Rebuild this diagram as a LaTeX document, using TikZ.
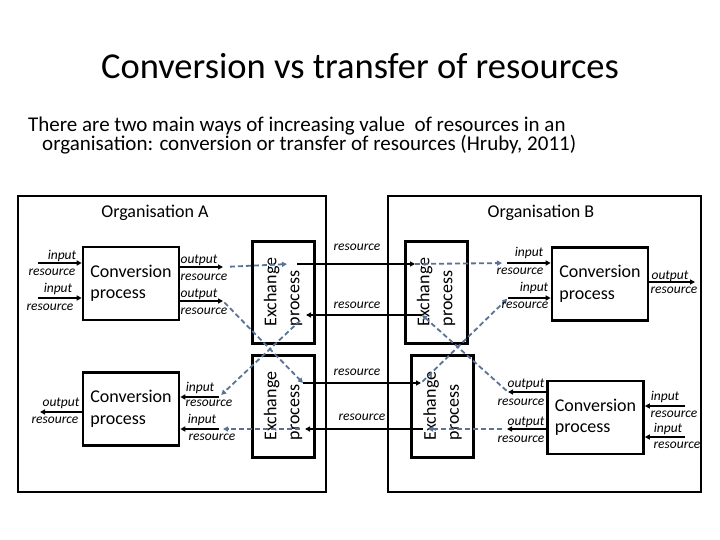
\documentclass[tikz,border=0pt]{standalone}
\usepackage{fontspec}
\setmainfont{Carlito}
\usetikzlibrary{arrows.meta}
\definecolor{flowgrey}{RGB}{90,115,148}

\begin{document}
\begin{tikzpicture}[x=1pt, y=-1pt,
		org/.style  = {rectangle, draw, line width=2.8pt, minimum height=296, inner sep=0},
		conv/.style = {rectangle, draw, line width=2.6pt, minimum width=96, minimum height=73, inner sep=0, align=left, font=\fontsize{18}{21.5}\selectfont},
		exch/.style = {rectangle, draw, line width=3pt, rotate=90, minimum width=102, minimum height=62, inner sep=0, align=left, font=\fontsize{18}{23}\selectfont},
		tag/.style  = {inner sep=0, font=\fontsize{13.5}{16}\selectfont\itshape},
		orglab/.style = {inner sep=0, font=\fontsize{18}{21}\selectfont},
		r/.style    = {-{Triangle[length=5pt,width=5pt]}, line width=1.8pt},
		d/.style    = {r, flowgrey, dash pattern=on 5pt off 3pt},
		]
		
		\useasboundingbox[fill=white] (0,0) rectangle (720,540);
		
		% === === Titles === ===
		\node[inner sep=0, anchor=base, font=\fontsize{36.5}{44}\selectfont]	(title)	at	(360,79)	{Conversion vs transfer of resources};
		\node[inner sep=0, anchor=base west, font=\fontsize{21}{25}\selectfont]	(sub1)	at	(28,132)	{There are two main ways of increasing value\ \ of resources in an};
		\node[inner sep=0, anchor=base west, font=\fontsize{21}{25}\selectfont]	(sub2)	at	(42,151)	{organisation: conversion or transfer of resources (Hruby, 2011)};
		
		% === === Organisations === ===
		\node[org, minimum width=308]	(orgA)	at	(172,344)		{};
		\node[org, minimum width=313]	(orgB)	at	(544.5,344)		{};
		\node[orglab]	(nameA)	at	(155,213)		{Organisation A};
		\node[orglab]	(nameB)	at	(541,213)		{Organisation B};
		
		% === === Nodes === ===
		\node[conv]		(cAt)	at	(131,283.5)		{Conversion\\process};
		\node[conv]		(cAb)	at	(131,409)		{Conversion\\process};
		\node[conv]		(cBt)	at	(600,284)		{Conversion\\process};
		\node[conv]		(cBb)	at	(595.5,417.5)	{Conversion\\process};
		\node[exch]		(xAt)	at	(283,292)		{Exchange\\process};
		\node[exch]		(xAb)	at	(283,406)		{Exchange\\process};
		\node[exch]		(xBt)	at	(436,292)		{Exchange\\process};
		\node[exch]		(xBb)	at	(442.5,406)		{Exchange\\process};
		
		% === === Ports === ===
		\coordinate	(iA1)	at	(38,263);
		\coordinate	(iA2)	at	(38,298);
		\coordinate	(oA1)	at	(223,267);
		\coordinate	(oA2)	at	(223,301);
		\coordinate	(oA3)	at	(40,412);
		\coordinate	(iA3)	at	(219,397);
		\coordinate	(iA4)	at	(219,429);
		\coordinate	(pA1)	at	(289,264);
		\coordinate	(pA2)	at	(303,383);
		\coordinate	(qA1)	at	(306,315);
		\coordinate	(qA2)	at	(305,429);
		\coordinate	(pB1)	at	(415,264);
		\coordinate	(pB2)	at	(421,383);
		\coordinate	(qB1)	at	(422,315);
		\coordinate	(qB2)	at	(426,429);
		\coordinate	(iB1)	at	(507,263);
		\coordinate	(iB2)	at	(508,298);
		\coordinate	(oB1)	at	(508,392);
		\coordinate	(oB2)	at	(507,429);
		\coordinate	(oB3)	at	(695,282);
		\coordinate	(iB3)	at	(685,406);
		\coordinate	(iB4)	at	(685,437);
		
		% === === Conversion in and out === ===
		\draw[r]	(iA1)	--	(iA1 -| cAt.west);
		\draw[r]	(iA2)	--	(iA2 -| cAt.west);
		\draw[r]	(cAt.east |- oA1)	--	(oA1);
		\draw[r]	(cAt.east |- oA2)	--	(oA2);
		\draw[r]	(cAb.west |- oA3)	--	(oA3);
		\draw[r]	(iA3)	--	(iA3 -| cAb.east);
		\draw[r]	(iA4)	--	(iA4 -| cAb.east);
		\draw[r]	(iB1)	--	(iB1 -| cBt.west);
		\draw[r]	(iB2)	--	(iB2 -| cBt.west);
		\draw[r]	(cBt.east |- oB3)	--	(oB3);
		\draw[r]	(cBb.west |- oB1)	--	(oB1);
		\draw[r]	(cBb.west |- oB2)	--	(oB2);
		\draw[r]	(iB3)	--	(iB3 -| cBb.east);
		\draw[r]	(iB4)	--	(iB4 -| cBb.east);
		
		% === === Transfers === ===
		\draw[r, shorten <=8pt]	(pA1)	--	(pB1);
		\draw[r]	(qB1)	--	(qA1);
		\draw[r]	(pA2)	--	(pB2);
		\draw[r, shorten <=3pt]	(qB2)	--	(qA2);
		
		\draw[d, shorten <=7pt, shorten >=2pt]	(oA1)	--	(pA1);
		\draw[d, shorten >=5pt]	(pB1)	--	(iB1);
		\draw[d, shorten <=2pt]	(oB1)	--	(qB1);
		\draw[d, shorten <=8pt, shorten >=3pt]	(qA1)	--	(iA3);
		\draw[d, shorten <=2pt]	(oA2)	--	(pA2);
		\draw[d, shorten <=2pt, shorten >=1pt]	(pB2)	--	(iB2);
		\draw[d, shorten <=5pt, shorten >=2pt]	(oB2)	--	(qB2);
		\draw[d, shorten <=5pt, shorten >=4pt]	(qA2)	--	(iA4);
		
		% === === Labels === ===
		\node[tag]	(tA1i)	at	(62,256)	{input};
		\node[tag]	(tA1r)	at	(52,272)	{resource};
		\node[tag]	(tA2i)	at	(58,289)	{input};
		\node[tag]	(tA2r)	at	(50,307)	{resource};
		\node[tag]	(tA3o)	at	(199,260)	{output};
		\node[tag]	(tA3r)	at	(204,277)	{resource};
		\node[tag]	(tA4o)	at	(199,294)	{output};
		\node[tag]	(tA4r)	at	(204,311)	{resource};
		\node[tag]	(tA5o)	at	(61,403)	{output};
		\node[tag]	(tA5r)	at	(55,420)	{resource};
		\node[tag]	(tA6i)	at	(200,388)	{input};
		\node[tag]	(tA6r)	at	(209,403)	{resource};
		\node[tag]	(tA7i)	at	(202,420)	{input};
		\node[tag]	(tA7r)	at	(212,437)	{resource};
		
		\node[tag]	(tX1)	at	(357,247)	{resource};
		\node[tag]	(tX2)	at	(357,305)	{resource};
		\node[tag]	(tX3)	at	(357,372)	{resource};
		\node[tag]	(tX4)	at	(362,417)	{resource};
		
		\node[tag]	(tB1i)	at	(529,253)	{input};
		\node[tag]	(tB1r)	at	(520,271)	{resource};
		\node[tag]	(tB2i)	at	(534,288)	{input};
		\node[tag]	(tB2r)	at	(525,305)	{resource};
		\node[tag]	(tB3o)	at	(670,276)	{output};
		\node[tag]	(tB3r)	at	(674,290)	{resource};
		\node[tag]	(tB4o)	at	(526,384)	{output};
		\node[tag]	(tB4r)	at	(521,402)	{resource};
		\node[tag]	(tB5o)	at	(526,422)	{output};
		\node[tag]	(tB5r)	at	(521,439)	{resource};
		\node[tag]	(tB6i)	at	(665,397)	{input};
		\node[tag]	(tB6r)	at	(674,414)	{resource};
		\node[tag]	(tB7i)	at	(668,429)	{input};
		\node[tag]	(tB7r)	at	(677,445)	{resource};
		
	\end{tikzpicture}
\end{document}
